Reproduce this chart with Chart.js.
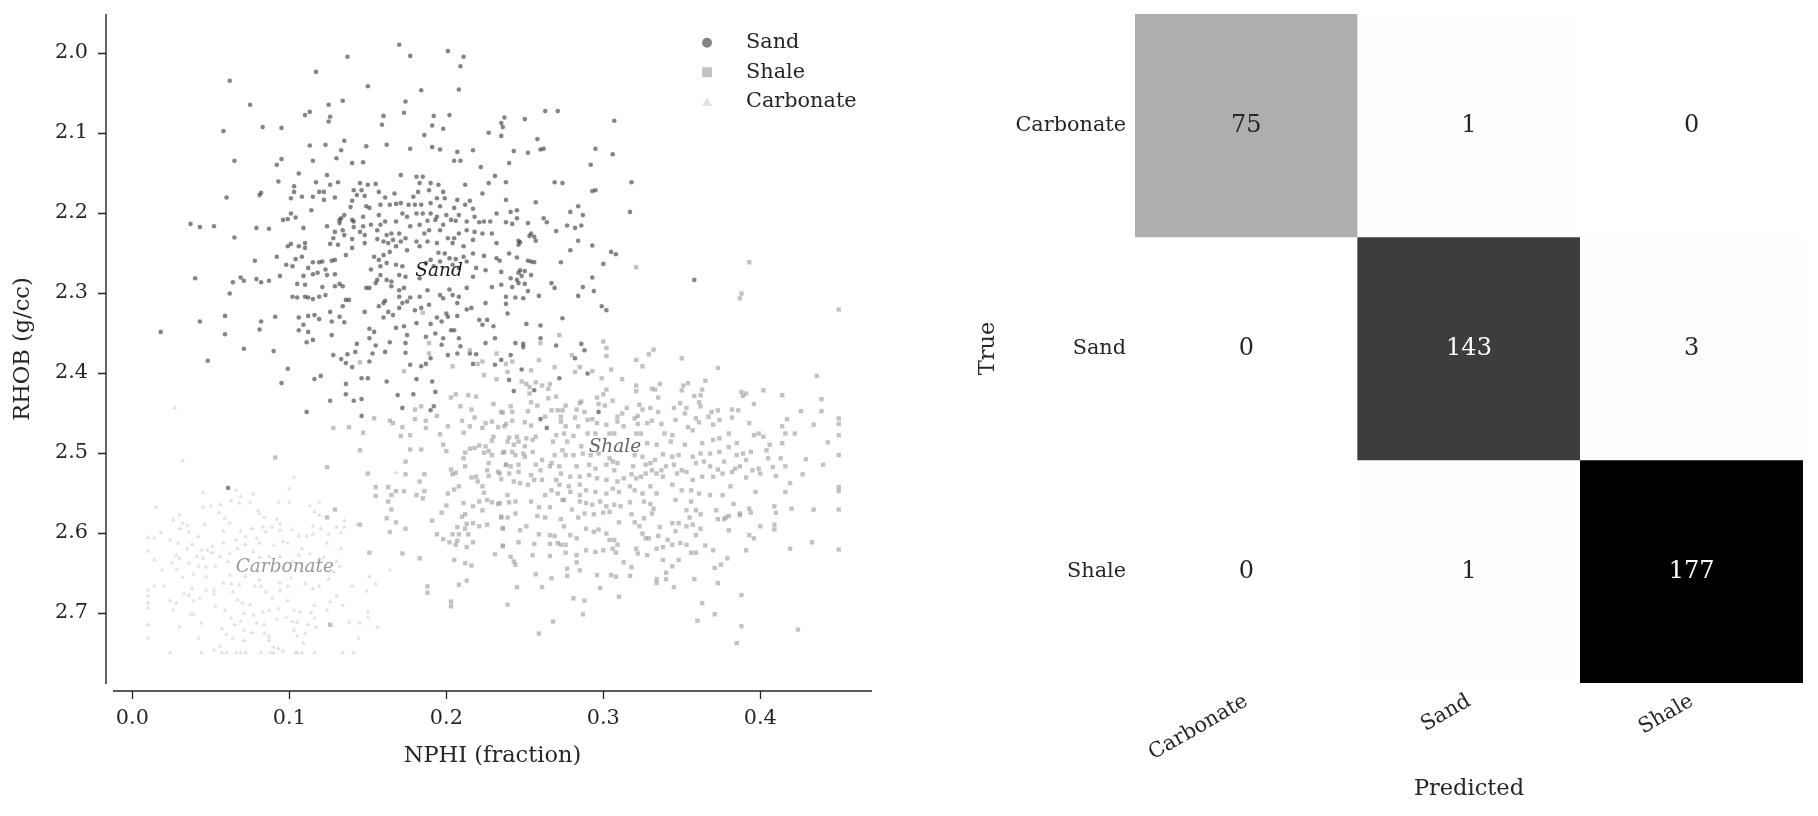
<!DOCTYPE html>
<html>
<head>
<meta charset="utf-8">
<script src="https://cdn.jsdelivr.net/npm/chart.js@4.4.1/dist/chart.umd.min.js"></script>
<style>
  html, body { margin: 0; padding: 0; background: #fff; }
  #wrap { position: relative; width: 1818px; height: 816px; }
  canvas { position: absolute; top: 0; }
  #scatter { left: 0; }
  #confusion { left: 909px; }
</style>
</head>
<body>
<div id="wrap">
  <canvas id="scatter" width="909" height="816"></canvas>
  <canvas id="confusion" width="909" height="816"></canvas>
</div>
<script>
const FONT = "'DejaVu Serif', serif";
const INK = '#262626';

// ---- scatter: NPHI vs RHOB by lithology ----
const classNames = ['Sand', 'Shale', 'Carbonate'];
const classColors = ['rgba(51,51,51,0.6)', 'rgba(153,153,153,0.6)', 'rgba(204,204,204,0.6)'];
const classMarkers = ['circle', 'rect', 'triangle'];
const markerRadius = [2.3, 3.1, 2.6];
const legendRadius = [5, 7, 5.8];

// class centroids (where the italic class names sit)
const centroidNphi = [0.1954, 0.3074, 0.0971];
const centroidRhob = [2.2737, 2.4925, 2.6425];
const centroidInk = ['#1a1a1a', '#666666', '#999999'];

const nphiTicks = [0.0, 0.1, 0.2, 0.3, 0.4];
const rhobTicks = [2.0, 2.1, 2.2, 2.3, 2.4, 2.5, 2.6, 2.7];

// [NPHI, RHOB]
const sandPts = [
  [0.170,1.990],[0.201,1.998],[0.211,2.005],[0.209,2.017],[0.208,2.046],[0.177,2.004],[0.137,2.005],[0.117,2.024],[0.150,2.042],[0.184,2.047],
  [0.062,2.035],[0.075,2.065],[0.134,2.060],[0.125,2.065],[0.174,2.061],[0.173,2.075],[0.110,2.078],[0.113,2.074],[0.126,2.080],[0.125,2.086],
  [0.160,2.079],[0.159,2.090],[0.192,2.079],[0.202,2.078],[0.191,2.091],[0.198,2.095],[0.186,2.103],[0.058,2.098],[0.083,2.093],[0.095,2.094],
  [0.237,2.081],[0.235,2.088],[0.236,2.093],[0.227,2.100],[0.235,2.104],[0.250,2.083],[0.263,2.073],[0.271,2.073],[0.307,2.085],[0.306,2.127],
  [0.295,2.120],[0.292,2.140],[0.258,2.108],[0.262,2.120],[0.260,2.121],[0.252,2.125],[0.243,2.123],[0.240,2.138],[0.231,2.154],[0.222,2.143],
  [0.217,2.122],[0.207,2.124],[0.205,2.135],[0.209,2.135],[0.196,2.121],[0.191,2.118],[0.177,2.120],[0.162,2.115],[0.149,2.117],[0.147,2.137],
  [0.140,2.138],[0.135,2.110],[0.133,2.122],[0.123,2.115],[0.113,2.116],[0.130,2.132],[0.115,2.135],[0.095,2.133],[0.092,2.140],[0.065,2.135],
  [0.106,2.151],[0.124,2.153],[0.171,2.153],[0.181,2.155],[0.185,2.155],
  [0.093,2.161],[0.103,2.167],[0.103,2.174],[0.117,2.162],[0.126,2.165],[0.131,2.162],[0.141,2.172],[0.145,2.163],[0.146,2.172],[0.150,2.165],
  [0.155,2.164],[0.148,2.179],[0.143,2.178],[0.157,2.174],[0.161,2.181],[0.167,2.176],[0.179,2.180],[0.183,2.163],[0.182,2.174],[0.189,2.172],
  [0.190,2.163],[0.195,2.165],[0.198,2.174],[0.199,2.182],[0.194,2.182],[0.212,2.165],[0.223,2.176],[0.227,2.163],[0.238,2.184],[0.082,2.175],
  [0.081,2.178],[0.060,2.181],[0.101,2.182],[0.108,2.180],[0.115,2.180],[0.119,2.174],[0.122,2.174],[0.122,2.184],[0.129,2.181],[0.140,2.185],
  [0.139,2.193],[0.101,2.201],[0.104,2.206],[0.096,2.209],[0.099,2.208],[0.114,2.197],[0.135,2.203],[0.132,2.209],[0.133,2.207],[0.140,2.209],
  [0.147,2.205],[0.149,2.192],[0.151,2.194],[0.158,2.190],[0.157,2.203],[0.164,2.190],[0.168,2.189],[0.171,2.188],[0.176,2.190],[0.180,2.190],
  [0.184,2.190],[0.190,2.188],[0.196,2.192],[0.205,2.194],[0.207,2.184],[0.212,2.190],[0.215,2.185],[0.217,2.195],[0.232,2.201],[0.221,2.212],
  [0.224,2.211],[0.228,2.211],[0.218,2.205],[0.213,2.211],[0.206,2.210],[0.203,2.209],[0.198,2.215],[0.193,2.209],[0.188,2.210],[0.183,2.215],
  [0.177,2.217],[0.172,2.201],[0.175,2.205],[0.181,2.201],[0.185,2.201],[0.190,2.201],[0.194,2.205],[0.200,2.203],[0.208,2.203],[0.161,2.211],
  [0.168,2.211],[0.158,2.215],[0.152,2.215],[0.147,2.217],[0.141,2.218],[0.141,2.211],[0.132,2.213],[0.124,2.217],[0.109,2.219],[0.087,2.220],
  [0.079,2.219],[0.052,2.217],[0.043,2.218],[0.037,2.214],[0.129,2.224],[0.134,2.222],[0.135,2.228],[0.145,2.224],[0.148,2.228],[0.156,2.222],
  [0.162,2.228],[0.165,2.226],[0.170,2.226],[0.174,2.232],[0.171,2.236],[0.166,2.234],[0.160,2.236],[0.156,2.233],[0.186,2.226],[0.189,2.222],
  [0.188,2.236],[0.196,2.222],[0.201,2.232],[0.205,2.232],[0.208,2.226],[0.213,2.222],[0.218,2.224],[0.223,2.226],[0.229,2.226],[0.232,2.238],
  [0.217,2.234],[0.204,2.238],[0.211,2.242],[0.194,2.238],[0.181,2.236],[0.183,2.242],[0.175,2.247],[0.168,2.242],[0.163,2.238],[0.164,2.249],
  [0.160,2.253],[0.154,2.255],[0.148,2.238],[0.140,2.244],[0.136,2.253],[0.131,2.240],[0.126,2.239],[0.128,2.232],[0.140,2.233],[0.110,2.238],
  [0.110,2.244],[0.106,2.242],[0.101,2.239],[0.099,2.242],[0.065,2.231],[0.232,2.257],[0.234,2.260],[0.224,2.254],[0.217,2.251],[0.211,2.255],
  [0.206,2.258],[0.202,2.257],[0.199,2.251],[0.195,2.250],[0.196,2.261],[0.190,2.259],[0.187,2.263],[0.192,2.267],[0.204,2.265],[0.208,2.269],
  [0.213,2.261],[0.219,2.269],[0.225,2.272],[0.235,2.274],[0.217,2.280],[0.170,2.278],[0.172,2.267],[0.168,2.265],[0.162,2.263],[0.157,2.259],
  [0.158,2.267],[0.152,2.271],[0.158,2.278],[0.162,2.284],[0.156,2.284],[0.174,2.280],[0.183,2.282],[0.165,2.286],[0.155,2.288],[0.151,2.294],
  [0.149,2.294],[0.129,2.259],[0.127,2.260],[0.121,2.261],[0.119,2.262],[0.115,2.262],[0.112,2.269],[0.123,2.271],[0.118,2.275],[0.115,2.277],
  [0.109,2.279],[0.104,2.258],[0.108,2.255],[0.098,2.265],[0.102,2.267],[0.092,2.255],[0.078,2.260],[0.040,2.282],[0.069,2.281],[0.071,2.285],
  [0.079,2.283],[0.082,2.287],[0.087,2.285],[0.094,2.279],[0.064,2.287],[0.124,2.278],[0.129,2.277],[0.132,2.289],[0.129,2.292],[0.134,2.292],
  [0.105,2.289],[0.110,2.290],[0.121,2.293],[0.062,2.301],[0.102,2.305],[0.105,2.306],[0.110,2.305],[0.112,2.306],[0.115,2.308],[0.119,2.305],
  [0.123,2.303],[0.136,2.309],[0.138,2.309],[0.134,2.317],[0.148,2.324],[0.160,2.313],[0.157,2.317],[0.161,2.310],[0.165,2.292],[0.170,2.297],
  [0.173,2.294],[0.170,2.305],[0.177,2.306],[0.172,2.313],[0.175,2.311],[0.170,2.319],[0.183,2.305],[0.188,2.297],[0.196,2.303],[0.198,2.307],
  [0.202,2.296],[0.204,2.303],[0.208,2.305],[0.207,2.313],[0.213,2.294],[0.213,2.321],[0.216,2.319],[0.225,2.313],[0.235,2.290],[0.229,2.293],
  [0.238,2.305],[0.200,2.326],[0.201,2.330],[0.197,2.336],[0.207,2.329],[0.189,2.315],[0.184,2.319],[0.180,2.322],[0.163,2.324],[0.166,2.328],
  [0.160,2.331],[0.126,2.324],[0.132,2.330],[0.135,2.337],[0.127,2.336],[0.119,2.333],[0.116,2.328],[0.112,2.329],[0.106,2.331],[0.109,2.340],
  [0.106,2.347],[0.112,2.349],[0.059,2.329],[0.091,2.330],[0.082,2.336],[0.081,2.346],[0.043,2.336],[0.018,2.349],[0.059,2.352],[0.151,2.345],
  [0.154,2.349],[0.151,2.357],[0.143,2.364],[0.155,2.366],[0.164,2.362],[0.168,2.344],[0.173,2.342],[0.175,2.353],[0.174,2.363],[0.181,2.338],
  [0.187,2.355],[0.190,2.339],[0.194,2.331],[0.193,2.351],[0.198,2.357],[0.197,2.365],[0.203,2.347],[0.205,2.347],[0.208,2.357],[0.209,2.367],
  [0.223,2.340],[0.226,2.334],[0.230,2.342],[0.225,2.363],[0.231,2.357],[0.221,2.334],[0.127,2.353],[0.111,2.362],[0.115,2.359],[0.071,2.370],
  [0.090,2.373],[0.048,2.385],[0.128,2.378],[0.133,2.383],[0.136,2.388],[0.137,2.377],[0.142,2.374],[0.140,2.393],[0.151,2.386],[0.153,2.376],
  [0.161,2.374],[0.174,2.375],[0.177,2.390],[0.184,2.392],[0.187,2.389],[0.190,2.382],[0.201,2.378],[0.207,2.376],[0.215,2.376],[0.219,2.377],
  [0.217,2.389],[0.231,2.390],[0.235,2.384],[0.099,2.395],[0.095,2.413],[0.116,2.408],[0.120,2.404],[0.136,2.414],[0.146,2.407],[0.150,2.407],
  [0.162,2.411],[0.181,2.408],[0.191,2.411],[0.193,2.424],[0.179,2.427],[0.169,2.428],[0.126,2.435],[0.136,2.427],[0.141,2.435],[0.146,2.433],
  [0.172,2.444],[0.190,2.447],[0.192,2.442],[0.146,2.454],[0.111,2.449],
  [0.238,2.162],[0.269,2.162],[0.274,2.163],[0.318,2.162],[0.293,2.173],[0.295,2.172],[0.257,2.187],[0.284,2.192],[0.279,2.199],[0.287,2.203],
  [0.317,2.199],[0.241,2.199],[0.245,2.197],[0.245,2.207],[0.238,2.212],[0.242,2.214],[0.252,2.213],[0.262,2.207],[0.264,2.212],[0.277,2.216],
  [0.282,2.219],[0.286,2.216],[0.270,2.223],[0.254,2.226],[0.253,2.229],[0.256,2.230],[0.257,2.235],[0.246,2.235],[0.247,2.237],[0.246,2.240],
  [0.284,2.235],[0.293,2.241],[0.279,2.247],[0.305,2.249],[0.308,2.252],[0.240,2.251],[0.245,2.256],[0.252,2.260],[0.254,2.261],[0.256,2.262],
  [0.273,2.262],[0.300,2.264],[0.247,2.272],[0.250,2.273],[0.246,2.275],[0.248,2.279],[0.254,2.278],[0.241,2.282],[0.245,2.284],[0.246,2.288],
  [0.250,2.289],[0.242,2.293],[0.293,2.281],[0.358,2.284],[0.267,2.288],[0.269,2.294],[0.287,2.293],[0.294,2.298],[0.284,2.304],[0.259,2.304],
  [0.252,2.298],[0.244,2.306],[0.249,2.307],[0.238,2.314],[0.239,2.326],[0.299,2.317],[0.302,2.322],[0.274,2.332],[0.251,2.339],[0.260,2.341],
  [0.260,2.357],[0.244,2.363],[0.249,2.364],[0.249,2.368],[0.270,2.366],[0.286,2.364],[0.288,2.372],[0.241,2.378],[0.282,2.382],[0.248,2.396],
  [0.290,2.401],[0.240,2.409],[0.272,2.407],[0.243,2.423],[0.256,2.422],[0.297,2.449],[0.260,2.458],[0.264,2.469],[0.061,2.544]
];

const shalePts = [
  [0.393,2.262],[0.321,2.268],[0.388,2.301],[0.387,2.307],[0.450,2.321],[0.272,2.353],[0.260,2.363],[0.300,2.361],[0.302,2.369],[0.302,2.379],
  [0.332,2.371],[0.329,2.377],[0.350,2.382],[0.321,2.384],[0.325,2.392],[0.259,2.384],[0.242,2.386],[0.238,2.389],[0.280,2.378],[0.269,2.393],
  [0.285,2.393],[0.282,2.399],[0.293,2.398],[0.305,2.396],[0.254,2.397],[0.239,2.399],[0.373,2.394],[0.436,2.404],[0.299,2.407],[0.312,2.408],
  [0.365,2.410],[0.354,2.413],[0.351,2.416],[0.350,2.422],[0.336,2.414],[0.321,2.416],[0.321,2.423],[0.331,2.420],[0.333,2.421],[0.363,2.421],
  [0.362,2.428],[0.358,2.429],[0.388,2.424],[0.391,2.426],[0.389,2.429],[0.402,2.422],[0.414,2.428],[0.439,2.433],[0.396,2.439],[0.382,2.446],
  [0.386,2.447],[0.373,2.447],[0.369,2.449],[0.367,2.455],[0.361,2.437],[0.362,2.442],[0.353,2.444],[0.349,2.438],[0.345,2.444],[0.352,2.451],
  [0.335,2.431],[0.330,2.444],[0.323,2.440],[0.325,2.446],[0.315,2.444],[0.306,2.435],[0.302,2.421],[0.300,2.427],[0.296,2.431],[0.297,2.439],
  [0.301,2.441],[0.286,2.436],[0.285,2.438],[0.283,2.446],[0.276,2.441],[0.274,2.447],[0.270,2.430],[0.265,2.432],[0.266,2.414],[0.261,2.416],
  [0.265,2.420],[0.257,2.412],[0.253,2.418],[0.251,2.414],[0.248,2.411],[0.254,2.437],[0.253,2.426],[0.258,2.441],[0.241,2.442],[0.235,2.449],
  [0.242,2.449],[0.252,2.448],[0.267,2.447],[0.271,2.447],[0.242,2.460],[0.238,2.464],[0.250,2.462],[0.254,2.466],[0.263,2.455],[0.273,2.455],
  [0.273,2.461],[0.276,2.467],[0.282,2.456],[0.284,2.467],[0.288,2.449],[0.290,2.459],[0.293,2.458],[0.296,2.463],[0.302,2.465],[0.309,2.455],
  [0.312,2.451],[0.309,2.461],[0.313,2.467],[0.320,2.457],[0.322,2.454],[0.322,2.464],[0.328,2.463],[0.331,2.460],[0.337,2.464],[0.335,2.449],
  [0.346,2.459],[0.354,2.468],[0.359,2.457],[0.361,2.462],[0.370,2.465],[0.374,2.459],[0.382,2.456],[0.393,2.463],[0.414,2.467],[0.417,2.458],
  [0.426,2.448],[0.434,2.465],[0.439,2.448],[0.450,2.457],[0.450,2.464],
  [0.185,2.325],[0.189,2.363],[0.189,2.376],[0.145,2.387],[0.173,2.398],[0.204,2.392],[0.224,2.403],[0.223,2.386],[0.220,2.389],[0.215,2.372],
  [0.232,2.376],[0.232,2.408],[0.203,2.431],[0.206,2.427],[0.214,2.428],[0.219,2.430],[0.230,2.439],[0.209,2.442],[0.216,2.446],[0.180,2.446],
  [0.184,2.442],[0.194,2.454],[0.187,2.460],[0.180,2.458],[0.172,2.468],[0.166,2.463],[0.164,2.460],[0.154,2.457],[0.138,2.468],[0.128,2.469],
  [0.210,2.460],[0.218,2.456],[0.225,2.463],[0.229,2.461],[0.236,2.450],[0.237,2.467],[0.233,2.468],[0.223,2.469],[0.215,2.467],[0.187,2.469],
  [0.201,2.467],
  [0.091,2.506],[0.124,2.518],[0.145,2.497],[0.147,2.475],[0.150,2.526],[0.129,2.571],[0.124,2.581],[0.145,2.590],[0.151,2.625],[0.126,2.715],
  [0.155,2.543],[0.163,2.543],[0.155,2.554],[0.165,2.553],[0.168,2.548],[0.173,2.548],[0.163,2.561],[0.165,2.571],[0.162,2.582],[0.168,2.587],
  [0.164,2.599],[0.174,2.595],[0.172,2.626],[0.183,2.632],[0.188,2.667],[0.188,2.675],[0.203,2.686],[0.203,2.692],[0.208,2.665],[0.213,2.660],
  [0.205,2.634],[0.212,2.638],[0.216,2.641],[0.171,2.479],[0.177,2.478],[0.177,2.496],[0.184,2.496],[0.174,2.511],[0.174,2.527],[0.183,2.536],
  [0.186,2.527],[0.181,2.553],[0.185,2.557],[0.186,2.548],[0.196,2.477],[0.198,2.490],[0.200,2.498],[0.211,2.475],[0.212,2.500],[0.211,2.507],
  [0.212,2.517],[0.215,2.495],[0.218,2.494],[0.221,2.491],[0.225,2.492],[0.224,2.500],[0.227,2.498],[0.229,2.503],[0.227,2.513],[0.226,2.522],
  [0.227,2.529],[0.230,2.480],[0.229,2.485],[0.236,2.500],[0.233,2.524],[0.235,2.533],[0.203,2.521],[0.206,2.525],[0.204,2.527],[0.216,2.531],
  [0.219,2.530],[0.220,2.536],[0.223,2.542],[0.224,2.550],[0.208,2.542],[0.205,2.546],[0.201,2.551],[0.226,2.559],[0.229,2.562],[0.221,2.561],
  [0.217,2.567],[0.223,2.572],[0.211,2.563],[0.200,2.566],[0.197,2.575],[0.191,2.585],[0.210,2.580],[0.212,2.577],[0.213,2.589],[0.207,2.593],
  [0.212,2.595],[0.217,2.588],[0.221,2.592],[0.226,2.590],[0.214,2.602],[0.208,2.602],[0.204,2.602],[0.194,2.602],[0.198,2.608],[0.202,2.612],
  [0.206,2.615],[0.207,2.610],[0.213,2.618],[0.217,2.612],[0.231,2.627],[0.236,2.617],[0.235,2.581],[0.236,2.594],[0.233,2.564],[0.238,2.515],
  [0.240,2.481],[0.245,2.480],[0.251,2.482],[0.255,2.484],[0.257,2.480],[0.268,2.486],[0.270,2.478],[0.275,2.476],[0.277,2.486],[0.281,2.479],
  [0.286,2.492],[0.290,2.476],[0.295,2.476],[0.304,2.476],[0.307,2.476],[0.321,2.476],[0.324,2.476],[0.328,2.488],[0.334,2.490],[0.339,2.476],
  [0.344,2.478],[0.343,2.486],[0.352,2.490],[0.357,2.472],[0.363,2.488],[0.370,2.484],[0.374,2.482],[0.380,2.476],[0.385,2.488],[0.396,2.478],
  [0.402,2.480],[0.399,2.476],[0.406,2.490],[0.414,2.488],[0.416,2.476],[0.422,2.476],[0.443,2.487],[0.450,2.478],[0.237,2.499],[0.243,2.490],
  [0.246,2.486],[0.249,2.501],[0.250,2.492],[0.242,2.499],[0.239,2.486],
  [0.244,2.503],[0.250,2.505],[0.255,2.499],[0.261,2.509],[0.267,2.513],[0.269,2.503],[0.274,2.497],[0.276,2.503],[0.281,2.503],[0.287,2.501],
  [0.292,2.503],[0.297,2.501],[0.304,2.507],[0.309,2.513],[0.306,2.511],[0.320,2.503],[0.325,2.505],[0.330,2.513],[0.333,2.509],[0.338,2.502],
  [0.344,2.505],[0.348,2.503],[0.357,2.505],[0.362,2.501],[0.368,2.501],[0.374,2.499],[0.380,2.493],[0.385,2.503],[0.389,2.501],[0.391,2.509],
  [0.394,2.499],[0.404,2.497],[0.405,2.507],[0.413,2.507],[0.429,2.508],[0.440,2.515],[0.450,2.503],[0.238,2.515],[0.241,2.517],[0.246,2.515],
  [0.257,2.515],[0.260,2.522],[0.266,2.517],[0.272,2.517],[0.283,2.517],[0.291,2.515],[0.295,2.520],[0.302,2.515],[0.307,2.522],[0.319,2.517],
  [0.327,2.515],[0.331,2.522],[0.337,2.522],[0.340,2.517],[0.345,2.515],[0.350,2.522],[0.359,2.513],[0.364,2.511],[0.368,2.517],[0.373,2.521],
  [0.377,2.511],[0.384,2.520],[0.387,2.517],[0.395,2.522],[0.399,2.520],[0.408,2.518],[0.416,2.517],
  [0.234,2.526],[0.240,2.526],[0.246,2.524],[0.254,2.528],[0.261,2.534],[0.270,2.534],[0.273,2.526],[0.279,2.530],[0.285,2.530],[0.291,2.528],
  [0.296,2.532],[0.302,2.534],[0.309,2.536],[0.313,2.532],[0.318,2.527],[0.321,2.532],[0.324,2.530],[0.327,2.526],[0.334,2.526],[0.338,2.530],
  [0.347,2.526],[0.353,2.524],[0.357,2.534],[0.363,2.530],[0.370,2.530],[0.376,2.526],[0.382,2.524],[0.391,2.531],[0.400,2.526],[0.410,2.529],
  [0.427,2.527],[0.243,2.536],[0.247,2.538],[0.252,2.540],[0.256,2.534],[0.272,2.540],[0.278,2.542],[0.285,2.540],[0.289,2.547],[0.295,2.549],
  [0.302,2.551],[0.306,2.545],[0.310,2.549],[0.317,2.542],[0.320,2.547],[0.325,2.551],[0.330,2.542],[0.334,2.551],[0.344,2.540],[0.350,2.547],
  [0.356,2.547],[0.361,2.551],[0.368,2.553],[0.376,2.553],[0.381,2.542],[0.397,2.549],[0.416,2.549],[0.419,2.538],[0.450,2.543],[0.450,2.548],
  [0.239,2.553],[0.263,2.553],[0.267,2.547],[0.271,2.551],[0.275,2.559],[0.279,2.549],[0.285,2.553],
  [0.234,2.563],[0.240,2.562],[0.244,2.561],[0.254,2.561],[0.259,2.568],[0.266,2.568],[0.274,2.559],[0.280,2.571],[0.285,2.561],[0.289,2.563],
  [0.293,2.565],[0.298,2.561],[0.302,2.567],[0.307,2.565],[0.311,2.567],[0.317,2.562],[0.326,2.561],[0.330,2.564],[0.332,2.570],[0.346,2.559],
  [0.356,2.561],[0.353,2.572],[0.359,2.572],[0.362,2.577],[0.372,2.572],[0.378,2.581],[0.383,2.564],[0.387,2.576],[0.393,2.570],[0.394,2.575],
  [0.409,2.567],[0.410,2.575],[0.420,2.570],[0.434,2.571],[0.450,2.571],[0.235,2.580],[0.239,2.581],[0.244,2.576],[0.258,2.579],[0.263,2.581],
  [0.273,2.583],[0.284,2.581],[0.288,2.576],[0.294,2.577],[0.300,2.575],[0.304,2.574],[0.318,2.577],[0.326,2.582],[0.331,2.576],[0.344,2.588],
  [0.348,2.588],[0.355,2.581],[0.357,2.590],[0.373,2.583],[0.377,2.583],[0.380,2.579],[0.387,2.578],[0.400,2.592],[0.409,2.590],[0.409,2.596],
  [0.236,2.595],[0.247,2.597],[0.251,2.592],[0.259,2.602],[0.266,2.603],[0.269,2.604],[0.275,2.592],[0.279,2.603],[0.283,2.607],[0.289,2.595],
  [0.294,2.599],[0.297,2.596],[0.302,2.601],[0.304,2.609],[0.307,2.609],[0.309,2.615],[0.310,2.587],[0.320,2.587],[0.323,2.592],[0.325,2.601],
  [0.327,2.607],[0.329,2.607],[0.335,2.604],[0.336,2.593],[0.341,2.609],[0.344,2.615],[0.346,2.598],[0.353,2.592],[0.359,2.603],[0.362,2.595],
  [0.380,2.597],[0.393,2.603],[0.396,2.607],[0.433,2.612],[0.419,2.620],[0.450,2.621],[0.236,2.616],[0.246,2.612],[0.256,2.614],[0.266,2.614],
  [0.271,2.613],[0.273,2.615],[0.276,2.615],[0.289,2.622],[0.295,2.624],[0.300,2.622],[0.306,2.620],[0.308,2.625],[0.321,2.620],[0.322,2.626],
  [0.328,2.628],[0.334,2.620],[0.338,2.618],[0.349,2.613],[0.353,2.615],[0.356,2.625],[0.359,2.625],[0.365,2.616],[0.370,2.622],[0.391,2.622],
  [0.241,2.630],[0.243,2.636],[0.244,2.640],[0.255,2.628],[0.266,2.629],[0.276,2.625],[0.283,2.628],[0.283,2.637],[0.313,2.637],[0.318,2.643],
  [0.338,2.634],[0.344,2.642],[0.348,2.634],[0.371,2.644],[0.375,2.640],[0.379,2.632],
  [0.257,2.652],[0.267,2.657],[0.277,2.654],[0.277,2.645],[0.285,2.647],[0.296,2.653],[0.305,2.653],[0.308,2.655],[0.317,2.654],[0.334,2.658],
  [0.334,2.663],[0.340,2.658],[0.340,2.650],[0.345,2.668],[0.358,2.658],[0.373,2.663],[0.245,2.668],[0.261,2.668],[0.298,2.669],[0.239,2.690],
  [0.281,2.682],[0.288,2.685],[0.310,2.680],[0.287,2.702],[0.268,2.711],[0.259,2.726],[0.363,2.688],[0.388,2.678],[0.371,2.702],[0.360,2.710],
  [0.388,2.717],[0.424,2.721],[0.385,2.738]
];

const carbPts = [
  [0.032,2.510],[0.045,2.550],[0.066,2.547],[0.069,2.555],[0.077,2.552],[0.063,2.560],[0.075,2.562],[0.103,2.531],[0.100,2.545],[0.015,2.568],
  [0.045,2.568],[0.050,2.567],[0.056,2.565],[0.068,2.563],[0.093,2.562],[0.100,2.562],[0.113,2.566],[0.119,2.562],[0.030,2.578],[0.026,2.584],
  [0.032,2.588],[0.035,2.591],[0.055,2.575],[0.059,2.582],[0.062,2.588],[0.080,2.572],[0.081,2.576],[0.084,2.581],[0.092,2.583],[0.094,2.589],
  [0.094,2.597],[0.089,2.593],[0.083,2.593],[0.076,2.595],[0.069,2.598],[0.058,2.598],[0.046,2.590],[0.042,2.605],[0.036,2.599],[0.030,2.595],
  [0.018,2.600],[0.010,2.606],[0.014,2.607],[0.010,2.623],[0.024,2.609],[0.029,2.613],[0.035,2.620],[0.038,2.615],[0.044,2.622],[0.048,2.622],
  [0.051,2.617],[0.058,2.613],[0.066,2.609],[0.072,2.605],[0.079,2.607],[0.085,2.599],[0.102,2.596],[0.106,2.604],[0.111,2.604],[0.115,2.602],
  [0.120,2.595],[0.125,2.602],[0.130,2.593],[0.133,2.600],[0.135,2.585],[0.135,2.593],[0.143,2.590],[0.115,2.592],[0.116,2.574],[0.119,2.578],
  [0.096,2.611],[0.099,2.613],[0.090,2.616],[0.081,2.613],[0.077,2.624],[0.072,2.615],[0.067,2.620],[0.062,2.626],[0.056,2.630],[0.051,2.625],
  [0.045,2.632],[0.041,2.630],[0.030,2.632],[0.028,2.628],[0.014,2.634],[0.025,2.638],[0.019,2.647],[0.028,2.646],[0.036,2.638],[0.042,2.642],
  [0.047,2.643],[0.053,2.642],[0.061,2.636],[0.081,2.631],[0.087,2.630],[0.094,2.630],[0.102,2.636],[0.106,2.628],[0.108,2.620],[0.113,2.626],
  [0.119,2.633],[0.124,2.613],[0.122,2.631],[0.130,2.636],[0.132,2.642],[0.128,2.649],[0.133,2.620],[0.164,2.647],[0.151,2.655],[0.155,2.664],
  [0.140,2.667],[0.149,2.673],[0.014,2.667],[0.020,2.667],[0.010,2.672],[0.010,2.679],[0.010,2.688],[0.010,2.694],[0.024,2.685],[0.028,2.688],
  [0.026,2.697],[0.033,2.676],[0.036,2.678],[0.038,2.670],[0.039,2.685],[0.043,2.682],[0.047,2.672],[0.032,2.656],[0.039,2.652],[0.047,2.655],
  [0.052,2.672],[0.052,2.677],[0.058,2.663],[0.063,2.664],[0.064,2.674],[0.068,2.665],[0.067,2.684],[0.070,2.688],[0.075,2.690],[0.078,2.667],
  [0.082,2.667],[0.085,2.674],[0.089,2.682],[0.094,2.663],[0.094,2.672],[0.099,2.667],[0.099,2.685],[0.101,2.657],[0.081,2.659],[0.072,2.655],
  [0.062,2.653],[0.110,2.664],[0.115,2.670],[0.119,2.667],[0.125,2.658],[0.126,2.686],[0.130,2.679],[0.134,2.691],[0.124,2.697],[0.116,2.691],
  [0.114,2.700],[0.107,2.699],[0.103,2.697],[0.093,2.695],[0.087,2.697],[0.083,2.699],[0.077,2.703],[0.071,2.701],[0.063,2.707],[0.059,2.697],
  [0.053,2.692],[0.037,2.702],[0.039,2.702],[0.044,2.713],[0.030,2.718],[0.010,2.715],[0.010,2.732],[0.042,2.732],[0.057,2.720],[0.060,2.727],
  [0.064,2.732],[0.065,2.715],[0.069,2.711],[0.071,2.722],[0.071,2.735],[0.076,2.725],[0.079,2.713],[0.084,2.715],[0.084,2.726],[0.087,2.730],
  [0.087,2.735],[0.092,2.708],[0.098,2.706],[0.102,2.711],[0.105,2.712],[0.103,2.722],[0.105,2.729],[0.110,2.726],[0.109,2.738],[0.112,2.715],
  [0.117,2.718],[0.116,2.707],[0.138,2.712],[0.145,2.713],[0.144,2.732],[0.150,2.699],[0.150,2.706],[0.156,2.718],[0.056,2.742],[0.052,2.747],
  [0.090,2.743],[0.093,2.745],[0.096,2.748],[0.024,2.750],[0.044,2.750],[0.057,2.750],[0.060,2.750],[0.066,2.750],[0.069,2.750],[0.072,2.750],
  [0.082,2.750],[0.088,2.750],[0.090,2.750],[0.104,2.750],[0.105,2.750],[0.108,2.750],[0.116,2.750],[0.134,2.750],[0.141,2.750],[0.027,2.444],
  [0.168,2.525]
];

// ---- confusion matrix (rows = true, cols = predicted) ----
const cmLabels = ['Carbonate', 'Sand', 'Shale'];
const cmCarbonate = [75, 1, 0];
const cmSand = [0, 143, 3];
const cmShale = [0, 1, 177];

// matplotlib "Greys"
const greysStops = [255, 240, 217, 189, 150, 115, 82, 37, 0];
function greys(t) {
  const p = Math.max(0, Math.min(1, t)) * 8;
  const i = Math.min(7, Math.floor(p));
  const v = Math.round(greysStops[i] + (greysStops[i + 1] - greysStops[i]) * (p - i));
  return { css: `rgb(${v},${v},${v})`, v };
}
function luminance(v) {
  const c = v / 255;
  return c <= 0.03928 ? c / 12.92 : Math.pow((c + 0.055) / 1.055, 2.4);
}

const tickFont = { family: FONT, size: 20.8 };
const titleFont = { family: FONT, size: 22.5 };

// keep the plot boxes where they are: no extra room for half tick labels
const noPadY = s => { s.paddingTop = 0; s.paddingBottom = 0; };
const noPadX = s => { s.paddingLeft = 0; s.paddingRight = 0; };

// ---------- left: scatter ----------
const pointSets = [sandPts, shalePts, carbPts];
const SPINE_GAP = 7, TICK_LEN = 8;

// seaborn-style spines pushed outward, ticks hung on them
const offsetSpines = {
  id: 'offsetSpines',
  afterDraw(chart) {
    const { ctx, chartArea: a, scales: { x, y } } = chart;
    const sx = a.left - SPINE_GAP, sy = a.bottom + SPINE_GAP;
    ctx.save();
    ctx.strokeStyle = INK;
    ctx.lineCap = 'butt';
    ctx.lineWidth = 1.4;
    ctx.beginPath();
    ctx.moveTo(sx, a.top); ctx.lineTo(sx, a.bottom);
    ctx.moveTo(a.left, sy); ctx.lineTo(a.right, sy);
    ctx.stroke();
    ctx.lineWidth = 1.3;
    ctx.beginPath();
    y.ticks.forEach(t => {
      const py = Math.round(y.getPixelForValue(t.value)) + 0.5;
      ctx.moveTo(sx - TICK_LEN, py); ctx.lineTo(sx, py);
    });
    x.ticks.forEach(t => {
      const px = Math.round(x.getPixelForValue(t.value)) + 0.5;
      ctx.moveTo(px, sy); ctx.lineTo(px, sy + TICK_LEN);
    });
    ctx.stroke();
    ctx.restore();
  }
};

const centroidLabels = {
  id: 'centroidLabels',
  afterDatasetsDraw(chart) {
    const { ctx, scales: { x, y } } = chart;
    ctx.save();
    ctx.font = `italic 18.5px ${FONT}`;
    ctx.textAlign = 'center';
    ctx.textBaseline = 'middle';
    classNames.forEach((name, i) => {
      ctx.fillStyle = centroidInk[i];
      ctx.fillText(name, x.getPixelForValue(centroidNphi[i]), y.getPixelForValue(centroidRhob[i]));
    });
    ctx.restore();
  }
};

const insideLegend = {
  id: 'insideLegend',
  afterDraw(chart) {
    const ctx = chart.ctx;
    const area = chart.chartArea;
    const mx = area.right - 165, tx = area.right - 126;
    ctx.save();
    ctx.font = `20.8px ${FONT}`;
    ctx.textBaseline = 'middle';
    chart.data.datasets.forEach((ds, i) => {
      const y = area.top + 28.7 + i * 29.5;
      ctx.fillStyle = ds.backgroundColor;
      Chart.helpers.drawPoint(ctx, {
        pointStyle: ds.pointStyle, radius: legendRadius[i], rotation: 0, borderWidth: 0
      }, mx, y + (ds.pointStyle === 'triangle' ? 1.5 : 0));
      ctx.fillStyle = INK;
      ctx.fillText(ds.label, tx, y);
    });
    ctx.restore();
  }
};

new Chart(document.getElementById('scatter'), {
  type: 'scatter',
  data: {
    datasets: classNames.map((name, i) => ({
      label: name,
      data: pointSets[i].map(p => ({ x: p[0], y: p[1] })),
      pointStyle: classMarkers[i],
      pointRadius: markerRadius[i],
      pointHoverRadius: markerRadius[i],
      backgroundColor: classColors[i],
      borderWidth: 0,
      order: 3 - i
    }))
  },
  options: {
    responsive: false,
    animation: false,
    devicePixelRatio: 1,
    events: [],
    layout: { padding: { top: 14, right: 37, left: 0, bottom: 0 } },
    plugins: { legend: { display: false }, tooltip: { enabled: false } },
    scales: {
      x: {
        type: 'linear',
        min: -0.01236,
        max: 0.4712,
        afterBuildTicks: s => { s.ticks = nphiTicks.map(v => ({ value: v })); },
        afterFit: s => { s.height = 132; noPadX(s); },
        ticks: { callback: v => v.toFixed(1), font: tickFont, color: INK, padding: 22 },
        grid: { display: false, drawTicks: false },
        border: { display: false },
        title: { display: true, text: 'NPHI (fraction)', font: titleFont, color: INK, padding: { top: 4, bottom: 46 } }
      },
      y: {
        type: 'linear',
        reverse: true,
        min: 1.9516,
        max: 2.7891,
        afterBuildTicks: s => { s.ticks = rhobTicks.map(v => ({ value: v })); },
        afterFit: s => { s.width = 113; noPadY(s); },
        ticks: { callback: v => v.toFixed(1), font: tickFont, color: INK, padding: 25 },
        grid: { display: false, drawTicks: false },
        border: { display: false },
        title: { display: true, text: 'RHOB (g/cc)', font: titleFont, color: INK, padding: { top: 9.5, bottom: 4 } }
      }
    }
  },
  plugins: [offsetSpines, centroidLabels, insideLegend]
});

// ---------- right: confusion matrix ----------
const cmRows = [cmCarbonate, cmSand, cmShale];
const cmMax = Math.max(...cmRows.map(r => Math.max(...r)));

const cellText = {
  id: 'cellText',
  afterDatasetsDraw(chart) {
    const ctx = chart.ctx;
    ctx.save();
    ctx.font = `24px ${FONT}`;
    ctx.textAlign = 'center';
    ctx.textBaseline = 'middle';
    chart.data.datasets.forEach((ds, r) => {
      chart.getDatasetMeta(r).data.forEach((bar, c) => {
        const g = greys(cmRows[r][c] / cmMax);
        ctx.fillStyle = luminance(g.v) > 0.408 ? INK : '#ffffff';
        ctx.fillText(String(cmRows[r][c]), bar.x, (bar.y + bar.base) / 2);
      });
    });
    ctx.restore();
  }
};

new Chart(document.getElementById('confusion'), {
  type: 'bar',
  data: {
    labels: cmLabels,
    datasets: cmRows.map((row, r) => ({
      label: cmLabels[r],
      data: row.map(() => [r, r + 1]),
      backgroundColor: row.map(v => greys(v / cmMax).css),
      borderWidth: 0,
      barPercentage: 1,
      categoryPercentage: 1,
      grouped: false
    }))
  },
  options: {
    responsive: false,
    animation: false,
    devicePixelRatio: 1,
    events: [],
    layout: { padding: { top: 14, right: 15, left: 0, bottom: 0 } },
    plugins: { legend: { display: false }, tooltip: { enabled: false } },
    scales: {
      x: {
        type: 'category',
        afterFit: s => { s.height = 133; noPadX(s); },
        ticks: { font: tickFont, color: INK, padding: 6, minRotation: 30, maxRotation: 30, autoSkip: false },
        grid: { display: false, drawTicks: false },
        border: { display: false },
        title: { display: true, text: 'Predicted', font: titleFont, color: INK, padding: { top: 4, bottom: 13 } }
      },
      y: {
        type: 'linear',
        reverse: true,
        min: 0,
        max: 3,
        afterBuildTicks: s => { s.ticks = cmLabels.map((_, i) => ({ value: i + 0.5 })); },
        afterFit: s => { s.width = 226; noPadY(s); },
        ticks: { callback: v => cmLabels[Math.floor(v)], font: tickFont, color: INK, padding: 9 },
        grid: { display: false, drawTicks: false },
        border: { display: false },
        title: { display: true, text: 'True', font: titleFont, color: INK, padding: { top: 65.5, bottom: 4 } }
      }
    }
  },
  plugins: [cellText]
});
</script>
</body>
</html>
